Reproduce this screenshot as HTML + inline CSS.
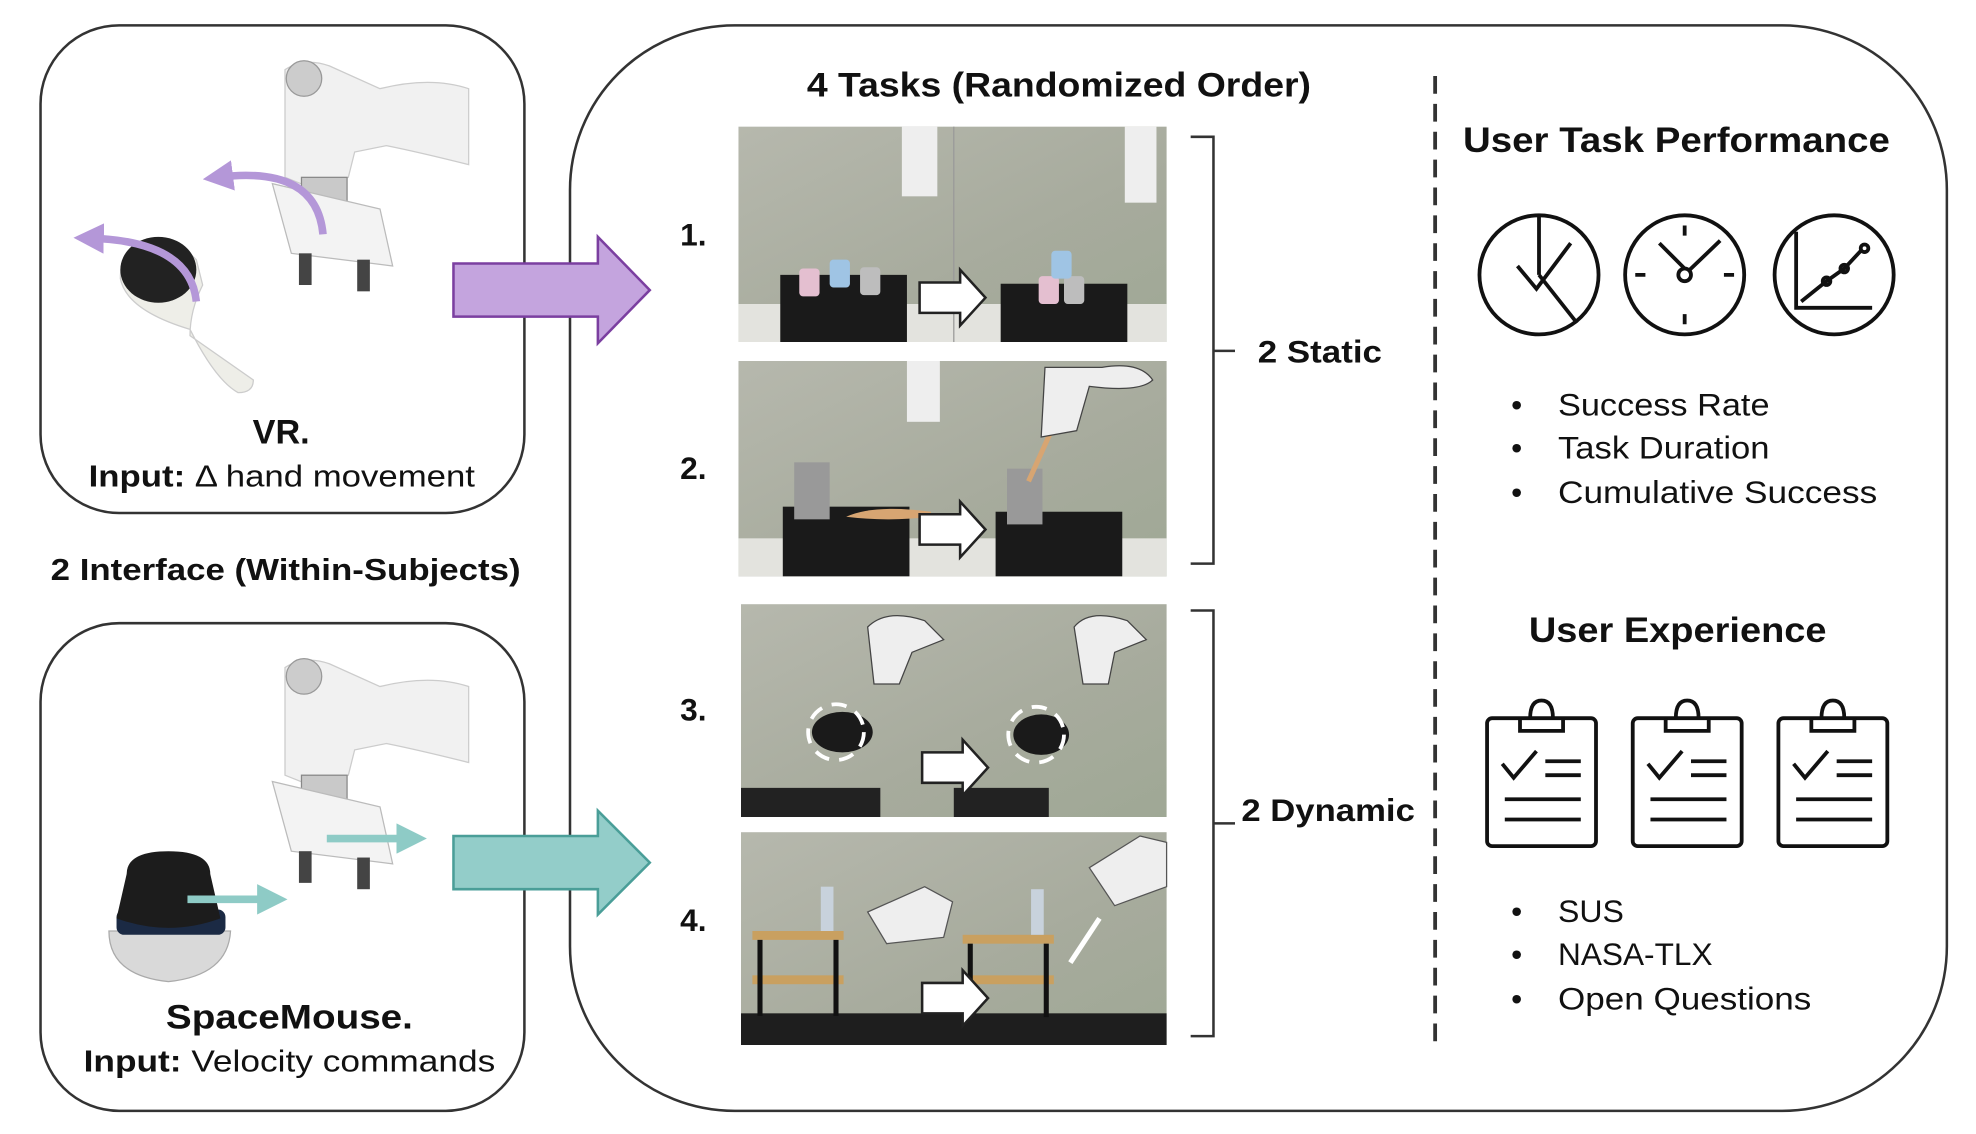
<!DOCTYPE html>
<html><head><meta charset="utf-8"><style>
html,body{margin:0;padding:0;background:#fff}
svg{display:block}
text{font-family:"Liberation Sans",sans-serif}
</style></head><body>
<svg width="1976" height="1134" viewBox="0 0 1560 895.26" preserveAspectRatio="none" xmlns="http://www.w3.org/2000/svg">
<defs>
<linearGradient id="wall" x1="0" y1="0" x2="1" y2="1">
<stop offset="0" stop-color="#b6b8ad"/><stop offset="0.6" stop-color="#a7ab9d"/><stop offset="1" stop-color="#9fa895"/>
</linearGradient>
<marker id="ap" viewBox="0 0 10 10" refX="5" refY="5" markerWidth="4" markerHeight="4" orient="auto"><path d="M0,0L10,5L0,10z" fill="#b497d8"/></marker>
<marker id="at" viewBox="0 0 10 10" refX="5" refY="5" markerWidth="4" markerHeight="4" orient="auto"><path d="M0,0L10,5L0,10z" fill="#8ecbc6"/></marker>
</defs>
<rect width="1560" height="895.26" fill="#fff"/>

<rect x="32" y="20" width="382" height="385" rx="62" fill="none" stroke="#333" stroke-width="2"/>
<rect x="32" y="492" width="382" height="385" rx="62" fill="none" stroke="#333" stroke-width="2"/>
<rect x="450" y="20" width="1087" height="857" rx="130" fill="none" stroke="#333" stroke-width="2"/>
<line x1="1133" y1="60" x2="1133" y2="828" stroke="#333" stroke-width="3" stroke-dasharray="14,8"/>

<g>
<path d="M225,55 Q240,45 260,52 L300,70 Q340,60 370,70 L370,130 Q330,120 305,115 L280,120 L275,140 L250,150 L225,140 Z" fill="#f1f1f1" stroke="#ccc"/>
<circle cx="240" cy="62" r="14" fill="#ccc" stroke="#999"/>
<rect x="238" y="140" width="36" height="40" fill="#c9c9c9" stroke="#888"/>
<path d="M215,145 L300,165 L310,210 L230,200 Z" fill="#f3f3f3" stroke="#bbb"/>
<rect x="236" y="200" width="10" height="25" fill="#444"/><rect x="282" y="205" width="10" height="25" fill="#444"/>
<path d="M120,190 Q140,190 155,205 L160,225 Q150,245 150,265 L200,300 Q200,310 188,310 Q170,300 150,260 Q100,245 95,220 Q95,195 120,190Z" fill="#eeeee8" stroke="#ccc"/>
<ellipse cx="125" cy="213" rx="30" ry="26" fill="#222"/>
<path d="M155,238 Q150,190 70,188" fill="none" stroke="#b497d8" stroke-width="6" marker-end="url(#ap)"/>
<path d="M255,185 Q250,130 172,140" fill="none" stroke="#b497d8" stroke-width="6" marker-end="url(#ap)"/>
</g>
<text x="222" y="350" text-anchor="middle" font-size="27" font-weight="bold" fill="#111">VR.</text>
<text x="70" y="384" font-size="24" fill="#111" textLength="305" lengthAdjust="spacingAndGlyphs"><tspan font-weight="bold">Input:</tspan> Δ hand movement</text>
<text x="40" y="458" font-size="24" font-weight="bold" fill="#111" textLength="371" lengthAdjust="spacingAndGlyphs">2 Interface (Within-Subjects)</text>

<g>
<path d="M225,527 Q240,517 260,524 L300,542 Q340,532 370,542 L370,602 Q330,592 305,587 L280,592 L275,612 L250,622 L225,612 Z" fill="#f1f1f1" stroke="#ccc"/>
<circle cx="240" cy="534" r="14" fill="#ccc" stroke="#999"/>
<rect x="238" y="612" width="36" height="40" fill="#c9c9c9" stroke="#888"/>
<path d="M215,617 L300,637 L310,682 L230,672 Z" fill="#f3f3f3" stroke="#bbb"/>
<rect x="236" y="672" width="10" height="25" fill="#444"/><rect x="282" y="677" width="10" height="25" fill="#444"/>
<path d="M86,735 Q86,770 133,775 Q180,770 182,735 Z" fill="#d9d9d9" stroke="#aaa"/>
<rect x="92" y="718" width="86" height="20" rx="6" fill="#1b2a44"/>
<path d="M100,690 Q100,672 133,672 Q166,672 166,690 L174,725 Q133,740 92,725 Z" fill="#1c1c1c"/>
<line x1="148" y1="710" x2="215" y2="710" stroke="#8ecbc6" stroke-width="6" marker-end="url(#at)"/>
<line x1="258" y1="662" x2="325" y2="662" stroke="#8ecbc6" stroke-width="6" marker-end="url(#at)"/>
</g>
<text x="131" y="812" font-size="27" font-weight="bold" fill="#111" textLength="195" lengthAdjust="spacingAndGlyphs">SpaceMouse.</text>
<text x="66" y="846" font-size="24" fill="#111" textLength="325" lengthAdjust="spacingAndGlyphs"><tspan font-weight="bold">Input:</tspan> Velocity commands</text>

<path d="M358,208 L472,208 L472,187 L513,229 L472,271 L472,250 L358,250 Z" fill="#c4a4de" stroke="#7b3fa0" stroke-width="2"/>
<path d="M358,660 L472,660 L472,640 L513,681 L472,722 L472,702 L358,702 Z" fill="#93cdc9" stroke="#4a9e98" stroke-width="2"/>

<text x="637" y="76" font-size="27" font-weight="bold" fill="#111" textLength="398" lengthAdjust="spacingAndGlyphs">4 Tasks (Randomized Order)</text>

<g>
<rect x="583" y="100" width="338" height="170" fill="url(#wall)"/>
<rect x="583" y="240" width="338" height="30" fill="#e3e3de"/>
<rect x="616" y="217" width="100" height="53" fill="#1a1a1a"/>
<rect x="790" y="224" width="100" height="46" fill="#1a1a1a"/>
<rect x="631" y="212" width="16" height="22" rx="3" fill="#e4bfd0"/><rect x="655" y="205" width="16" height="22" rx="3" fill="#9fc4e4"/><rect x="679" y="211" width="16" height="22" rx="3" fill="#bdbdbd"/>
<rect x="820" y="218" width="16" height="22" rx="3" fill="#e4bfd0"/><rect x="840" y="218" width="16" height="22" rx="3" fill="#bdbdbd"/><rect x="830" y="198" width="16" height="22" rx="3" fill="#9fc4e4"/>
<rect x="712" y="100" width="28" height="55" fill="#eee"/><rect x="888" y="100" width="25" height="60" fill="#eee"/>
<line x1="753" y1="100" x2="753" y2="270" stroke="#999" stroke-width="1"/>

<rect x="583" y="285" width="338" height="170" fill="url(#wall)"/>
<rect x="583" y="425" width="338" height="30" fill="#e3e3de"/>
<rect x="618" y="400" width="100" height="55" fill="#1a1a1a"/>
<rect x="786" y="404" width="100" height="51" fill="#1a1a1a"/>
<rect x="627" y="365" width="28" height="45" fill="#999"/><rect x="795" y="370" width="28" height="44" fill="#999"/>
<path d="M668,408 Q690,398 735,404 L735,408 Q700,412 668,408Z" fill="#d7a572"/>
<line x1="830" y1="340" x2="812" y2="380" stroke="#d7a572" stroke-width="4"/>
<rect x="716" y="285" width="26" height="48" fill="#eee"/>
<path d="M825,290 L870,290 Q900,285 910,300 Q900,310 860,305 L850,340 L822,345 Z" fill="#eee" stroke="#444" stroke-width="1"/>

<rect x="585" y="477" width="336" height="168" fill="url(#wall)"/>
<rect x="585" y="622" width="110" height="23" fill="#222"/><rect x="753" y="622" width="75" height="23" fill="#222"/>
<path d="M685,495 Q700,480 730,490 L745,505 L720,515 L710,540 L690,540 Z" fill="#eee" stroke="#444"/>
<path d="M848,495 Q860,480 890,490 L905,505 L880,515 L875,540 L855,540 Z" fill="#eee" stroke="#444"/>
<ellipse cx="665" cy="578" rx="24" ry="16" fill="#1a1a1a"/><ellipse cx="822" cy="580" rx="22" ry="16" fill="#1a1a1a"/>
<circle cx="660" cy="578" r="22" fill="none" stroke="#fff" stroke-width="3" stroke-dasharray="12,8"/>
<circle cx="818" cy="580" r="22" fill="none" stroke="#fff" stroke-width="3" stroke-dasharray="12,8"/>

<rect x="585" y="657" width="336" height="168" fill="url(#wall)"/>
<rect x="585" y="800" width="336" height="25" fill="#1e1e1e"/>
<rect x="594" y="735" width="72" height="7" fill="#c9a060"/><rect x="594" y="770" width="72" height="7" fill="#c9a060"/>
<rect x="760" y="738" width="72" height="7" fill="#c9a060"/><rect x="760" y="770" width="72" height="7" fill="#c9a060"/>
<rect x="598" y="742" width="4" height="60" fill="#111"/><rect x="658" y="742" width="4" height="60" fill="#111"/>
<rect x="764" y="745" width="4" height="58" fill="#111"/><rect x="824" y="745" width="4" height="58" fill="#111"/>
<rect x="648" y="700" width="10" height="35" fill="#c8d2dc"/><rect x="814" y="702" width="10" height="36" fill="#c8d2dc"/>
<path d="M685,720 L730,700 L752,712 L745,740 L700,745 Z" fill="#eee" stroke="#555"/>
<path d="M860,685 L900,660 L921,665 L921,700 L880,715 Z" fill="#eee" stroke="#555"/>
<path d="M845,760 L868,725" stroke="#fff" stroke-width="4" fill="none"/>
</g>
<path d="M726,223 L758,223 L758,213 L778,235 L758,257 L758,247 L726,247Z" fill="#fff" stroke="#222" stroke-width="2"/>
<path d="M726,406 L758,406 L758,396 L778,418 L758,440 L758,430 L726,430Z" fill="#fff" stroke="#222" stroke-width="2"/>
<path d="M728,594 L760,594 L760,584 L780,606 L760,628 L760,618 L728,618Z" fill="#fff" stroke="#222" stroke-width="2"/>
<path d="M728,776 L760,776 L760,766 L780,788 L760,810 L760,800 L728,800Z" fill="#fff" stroke="#222" stroke-width="2"/>

<g font-size="25" font-weight="bold" fill="#111">
<text x="537" y="194">1.</text><text x="537" y="378">2.</text><text x="537" y="569">3.</text><text x="537" y="735">4.</text>
</g>
<path d="M940,108 L958,108 L958,445 L940,445 M958,277 L975,277" fill="none" stroke="#333" stroke-width="2"/>
<path d="M940,482 L958,482 L958,818 L940,818 M958,650 L975,650" fill="none" stroke="#333" stroke-width="2"/>
<text x="993" y="286" font-size="25" font-weight="bold" fill="#111" textLength="98" lengthAdjust="spacingAndGlyphs">2 Static</text>
<text x="980" y="648" font-size="25" font-weight="bold" fill="#111" textLength="137" lengthAdjust="spacingAndGlyphs">2 Dynamic</text>

<text x="1155" y="120" font-size="28" font-weight="bold" fill="#111" textLength="337" lengthAdjust="spacingAndGlyphs">User  Task Performance</text>
<g fill="none" stroke="#111" stroke-width="3">
<circle cx="1215" cy="217" r="47"/>
<path d="M1215,170 L1215,217 M1198,210 L1213,228 L1240,192 M1215,217 L1245,255"/>
<circle cx="1330" cy="217" r="47"/>
<circle cx="1330" cy="217" r="5"/><path d="M1330,212 L1310,192 M1334,213 L1358,190 M1330,178 L1330,186 M1330,248 L1330,256 M1291,217 L1299,217 M1361,217 L1369,217"/>
<circle cx="1448" cy="217" r="47"/>
<path d="M1418,183 L1418,243 L1478,243 M1422,238 L1442,222 L1456,212 L1470,197"/>
<circle cx="1442" cy="222" r="3"/><circle cx="1456" cy="212" r="3"/><circle cx="1472" cy="196" r="3"/>
</g>
<g font-size="25" fill="#111">
<text x="1193" y="328">•</text><text x="1230" y="328" textLength="167" lengthAdjust="spacingAndGlyphs">Success Rate</text>
<text x="1193" y="362">•</text><text x="1230" y="362" textLength="167" lengthAdjust="spacingAndGlyphs">Task Duration</text>
<text x="1193" y="397">•</text><text x="1230" y="397" textLength="252" lengthAdjust="spacingAndGlyphs">Cumulative Success</text>
</g>
<text x="1207" y="507" font-size="28" font-weight="bold" fill="#111" textLength="235" lengthAdjust="spacingAndGlyphs">User Experience</text>
<g fill="none" stroke="#111" stroke-width="3">
<g id="cb">
<rect x="1174" y="567" width="86" height="101" rx="4"/>
<path d="M1200,567 L1200,577 L1234,577 L1234,567 M1208,567 Q1208,553 1217,553 Q1226,553 1226,567"/>
<path d="M1186,603 L1195,614 L1213,593 M1220,601 L1248,601 M1220,612 L1248,612 M1188,631 L1248,631 M1188,647 L1248,647"/>
</g>
<use href="#cb" x="115"/><use href="#cb" x="230"/>
</g>
<g font-size="25" fill="#111">
<text x="1193" y="728">•</text><text x="1230" y="728" textLength="52" lengthAdjust="spacingAndGlyphs">SUS</text>
<text x="1193" y="762">•</text><text x="1230" y="762" textLength="122" lengthAdjust="spacingAndGlyphs">NASA-TLX</text>
<text x="1193" y="797">•</text><text x="1230" y="797" textLength="200" lengthAdjust="spacingAndGlyphs">Open Questions</text>
</g>
</svg>
</body></html>
